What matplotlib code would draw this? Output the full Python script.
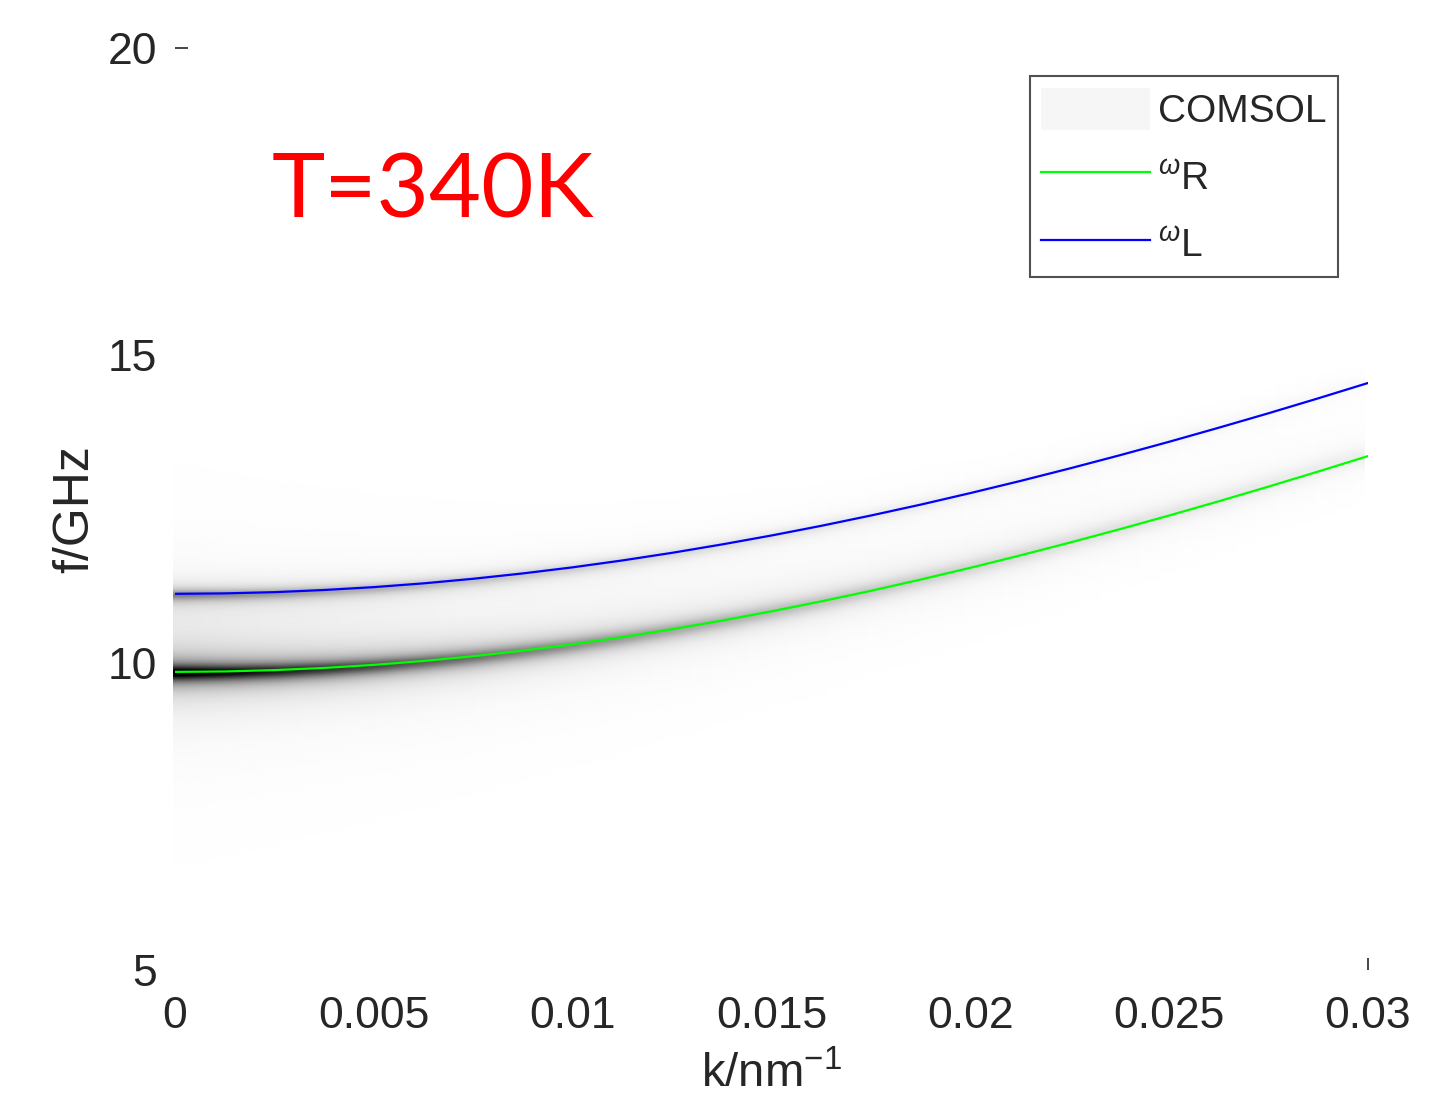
import numpy as np
import matplotlib.pyplot as plt
from matplotlib.lines import Line2D
from matplotlib.patches import Patch

plt.rcParams['font.family'] = ['Liberation Sans', 'DejaVu Sans']
plt.rcParams['mathtext.fontset'] = 'custom'
plt.rcParams['mathtext.rm'] = 'Liberation Sans'
plt.rcParams['mathtext.it'] = 'Liberation Sans:italic'

# dispersion along k (nm^-1), frequencies in GHz
k_pts = np.linspace(0, 0.03, 25)
w_R = [9.850, 9.857, 9.879, 9.914, 9.964, 10.028, 10.105, 10.196, 10.299,
       10.415, 10.544, 10.684, 10.835, 10.997, 11.169, 11.352, 11.543,
       11.744, 11.953, 12.170, 12.394, 12.626, 12.865, 13.110, 13.361]
w_L = [11.120, 11.127, 11.147, 11.182, 11.229, 11.290, 11.365, 11.452, 11.551,
       11.663, 11.787, 11.923, 12.069, 12.226, 12.394, 12.571, 12.759,
       12.955, 13.160, 13.373, 13.594, 13.823, 14.058, 14.301, 14.550]

# spectral weight map (COMSOL) built around the two branches
decay_k = 0.011
width_R, width_L, width_halo = 0.13, 0.09, 0.6
amp_L, amp_halo = 0.42, 0.05

k_grid = np.linspace(0, 0.03, 61)
f_grid = np.linspace(5, 20, 700)
K, F = np.meshgrid(k_grid, f_grid)
fR = np.interp(K, k_pts, w_R)
fL = np.interp(K, k_pts, w_L)
A = np.exp(-K / decay_k)
lor = lambda x, g: 1.0 / (1.0 + (x / g) ** 2)
spec = A * (lor(F - fR, width_R) + amp_L * lor(F - fL, width_L)
            + amp_halo * lor(F - fR, width_halo))
# the haze sits between the branches and below the lower one
spec += A * amp_halo * 0.5 * ((F > fR) & (F < fL))

fig = plt.figure(figsize=(14.55, 11.04), dpi=100)
ax = fig.add_axes([0.1203, 0.1214, 0.8199, 0.8351])

img = ax.imshow(spec, extent=[-0.00006, 0.0299, 4.99, 19.97], origin='lower', aspect='auto',
                cmap='gray_r', vmin=0, vmax=0.95, interpolation='bilinear', zorder=1)
img.set_clip_on(False)
ax.plot(k_pts, w_R, color='#00ff00', lw=1.6, zorder=3)
ax.plot(k_pts, w_L, color='#0000ff', lw=1.6, zorder=3)

ax.set_xlim(0, 0.03)
ax.set_ylim(5, 20)
ax.set_xticks([0, 0.005, 0.01, 0.015, 0.02, 0.025, 0.03])
ax.set_xticklabels(['0', '0.005', '0.01', '0.015', '0.02', '0.025', '0.03'])
ax.set_yticks([5, 10, 15, 20])
ax.set_axisbelow(True)
for s in ax.spines.values():
    s.set_visible(False)
ax.tick_params(axis='both', direction='in', length=9, width=1.2, colors='#262626', labelsize=32)
ax.tick_params(axis='x', pad=19)
ax.tick_params(axis='y', pad=13)

ax.set_ylabel('f/GHz', fontsize=36, color='#262626', labelpad=7)
ax.set_xlabel(r'k/nm$^{-1}$', fontsize=34, color='#262626', labelpad=11)

fig.text(0.187, 0.8034, 'T=340K', color='#ff0000', fontsize=65, family=['Lato', 'DejaVu Sans'])

handles = [Patch(facecolor='#f6f6f6', edgecolor='none'),
           Line2D([], [], color='#00ff00', lw=1.6),
           Line2D([], [], color='#0000ff', lw=1.6)]
labels = ['COMSOL', r'$^{\omega}$R', r'$^{\omega}$L']
leg = fig.legend(handles, labels, loc='upper right', bbox_to_anchor=(0.9196, 0.9312),
                 fontsize=28, frameon=True, fancybox=False, borderaxespad=0,
                 handlelength=2.8, handleheight=1.3, handletextpad=0.2,
                 labelspacing=0.65, borderpad=0.3)
leg.get_frame().set_edgecolor('#262626')
leg.get_frame().set_linewidth(1.5)
for t in leg.get_texts():
    t.set_color('#262626')

fig.savefig('out.png', dpi=100)
